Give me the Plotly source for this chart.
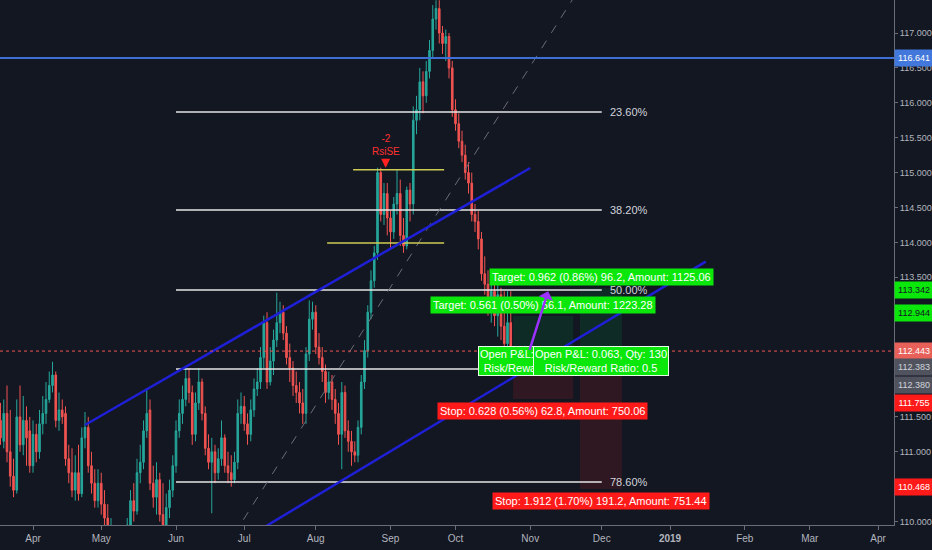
import plotly.graph_objects as go
import pandas as pd

# ---------------- data ----------------
dates = pd.bdate_range("2018-03-19", "2018-10-24")

opens = [
    111.45, 111.15, 111.55, 111.00, 110.65, 110.45, 111.50, 111.10, 111.45, 111.30,
    110.80, 111.25, 111.00, 111.40, 111.55, 111.75, 111.95, 112.10, 111.45, 111.60,
    111.55, 110.90, 110.70, 110.45, 110.70, 110.40, 111.20, 111.35, 110.80, 110.55,
    110.30, 110.55, 110.25, 110.05, 109.85, 109.90, 109.70, 109.50, 109.70, 109.80,
    109.95, 110.30, 110.15, 110.70, 110.85, 111.30, 111.60, 110.55, 110.35, 110.60,
    110.10, 109.95, 110.20, 110.45, 110.80, 111.30, 111.55, 111.75, 112.05, 111.85,
    111.25, 111.70, 112.00, 111.55, 111.05, 110.85, 111.00, 110.70, 110.90, 111.20,
    110.80, 110.70, 110.60, 110.85, 111.55, 111.65, 111.40, 111.25, 111.60, 111.90,
    112.00, 112.35, 112.85, 112.00, 112.30, 112.60, 112.85, 113.00, 112.70, 112.35,
    112.20, 111.95, 111.85, 111.70, 111.55, 112.40, 112.90, 113.00, 112.50, 112.35,
    112.15, 111.85, 112.00, 111.75, 111.55, 111.25, 111.85, 111.30, 111.15, 111.00,
    110.95, 111.35, 112.00, 112.45, 113.00, 113.45, 113.85, 115.00, 114.40, 114.70,
    114.35, 114.15, 114.55, 114.70, 114.10, 113.95, 114.75, 114.55, 115.75, 115.90,
    116.30, 116.10, 116.45, 116.75, 117.20, 117.35, 117.00, 116.85, 116.95, 116.50,
    115.90, 115.70, 115.45, 115.25, 115.00, 114.85, 114.40, 114.30, 114.05, 113.55,
    113.40, 113.10, 113.30, 112.95, 113.25, 112.80, 112.55, 112.85,
]
highs = [
    111.70, 111.75, 111.95, 111.60, 110.90, 111.75, 111.95, 111.80, 111.65, 111.50,
    111.45, 111.40, 111.60, 111.80, 112.00, 112.15, 112.29, 112.15, 111.85, 111.75,
    111.65, 111.10, 111.05, 110.95, 111.10, 111.35, 111.57, 111.50, 111.00, 110.75,
    110.75, 110.70, 110.45, 110.25, 110.05, 109.95, 109.80, 109.85, 109.90, 110.05,
    110.45, 110.55, 110.90, 111.10, 111.45, 111.91, 111.75, 110.80, 110.85, 110.70,
    110.55, 110.40, 110.60, 110.95, 111.45, 111.75, 111.95, 112.20, 112.20, 111.95,
    111.85, 112.20, 112.05, 111.65, 111.25, 111.20, 111.10, 111.05, 111.45, 111.25,
    111.00, 110.95, 111.00, 111.75, 111.85, 111.80, 111.55, 111.75, 112.05, 112.20,
    112.50, 112.95, 113.00, 112.50, 112.75, 113.28, 113.15, 113.10, 112.80, 112.55,
    112.30, 112.15, 112.00, 111.90, 112.50, 113.17, 113.15, 113.10, 112.70, 112.50,
    112.25, 112.15, 112.10, 111.90, 111.70, 112.00, 111.95, 111.45, 111.30, 111.15,
    111.45, 112.10, 112.60, 113.10, 113.60, 113.95, 115.07, 115.07, 114.85, 114.85,
    114.45, 114.65, 115.05, 114.90, 114.35, 114.80, 114.85, 115.95, 116.10, 116.50,
    116.45, 116.60, 116.90, 117.40, 117.47, 117.47, 117.10, 117.05, 117.00, 116.60,
    116.05, 115.85, 115.60, 115.40, 115.15, 115.00, 114.55, 114.45, 114.15, 113.80,
    113.60, 113.55, 113.40, 113.45, 113.35, 113.30, 113.30, 113.30,
]
lows = [
    111.10, 111.05, 110.85, 110.50, 110.35, 110.40, 111.00, 110.95, 110.80, 110.70,
    110.70, 110.85, 110.90, 111.25, 111.40, 111.70, 111.85, 111.35, 111.30, 111.40,
    110.80, 110.55, 110.35, 110.30, 110.30, 110.35, 111.05, 110.70, 110.40, 110.20,
    110.20, 110.10, 109.95, 109.75, 109.70, 109.55, 109.40, 109.35, 109.60, 109.70,
    109.90, 110.00, 110.10, 110.55, 110.75, 111.20, 110.45, 110.20, 110.10, 110.00,
    109.85, 109.85, 110.05, 110.35, 110.70, 111.20, 111.40, 111.65, 111.70, 111.10,
    111.15, 111.60, 111.45, 110.95, 110.75, 110.12, 110.55, 110.60, 110.80, 110.70,
    110.55, 110.50, 110.55, 110.75, 111.40, 111.30, 111.10, 111.15, 111.50, 111.80,
    111.90, 112.20, 111.90, 111.95, 112.10, 112.50, 112.70, 112.60, 112.25, 112.00,
    111.80, 111.70, 111.55, 111.40, 111.40, 112.30, 112.75, 112.40, 112.25, 112.00,
    111.70, 111.75, 111.60, 111.40, 111.10, 110.75, 111.20, 111.00, 110.80, 110.85,
    110.85, 111.25, 111.90, 112.35, 112.90, 113.35, 113.75, 114.30, 114.25, 114.10,
    113.90, 114.05, 114.40, 113.95, 113.85, 113.90, 114.30, 114.40, 115.55, 115.75,
    115.85, 116.00, 116.35, 116.65, 117.05, 116.85, 116.70, 116.60, 116.35, 115.80,
    115.60, 115.35, 115.15, 114.90, 114.70, 114.30, 114.15, 113.90, 113.45, 113.25,
    112.95, 112.85, 112.80, 112.65, 112.60, 112.45, 112.50, 112.40,
]
closes = [
    111.20, 111.55, 111.00, 110.65, 110.45, 111.50, 111.10, 111.45, 111.20, 110.80,
    111.25, 111.00, 111.40, 111.55, 111.75, 111.95, 112.10, 111.45, 111.60, 111.50,
    110.90, 110.70, 110.45, 110.70, 110.40, 111.20, 111.35, 110.80, 110.55, 110.30,
    110.55, 110.25, 110.05, 109.85, 109.90, 109.70, 109.50, 109.70, 109.80, 109.95,
    110.30, 110.15, 110.70, 110.85, 111.30, 111.55, 110.55, 110.35, 110.60, 110.10,
    109.95, 110.20, 110.45, 110.80, 111.30, 111.55, 111.75, 112.05, 111.85, 111.25,
    111.70, 112.00, 111.55, 111.05, 110.85, 111.00, 110.70, 110.90, 111.20, 110.80,
    110.70, 110.60, 110.85, 111.55, 111.65, 111.40, 111.25, 111.60, 111.90, 112.00,
    112.35, 112.85, 112.00, 112.30, 112.60, 112.85, 113.00, 112.70, 112.35, 112.20,
    111.95, 111.85, 111.70, 111.55, 112.40, 112.90, 113.00, 112.50, 112.35, 112.15,
    111.85, 112.00, 111.75, 111.55, 111.25, 111.85, 111.30, 111.15, 111.00, 110.95,
    111.35, 112.00, 112.45, 113.00, 113.45, 113.85, 115.00, 114.40, 114.70, 114.35,
    114.15, 114.55, 114.70, 114.10, 113.95, 114.75, 114.55, 115.75, 115.90, 116.30,
    116.10, 116.45, 116.75, 117.20, 117.35, 117.00, 116.85, 116.95, 116.50, 115.90,
    115.70, 115.45, 115.25, 115.00, 114.85, 114.40, 114.30, 114.05, 113.55, 113.40,
    113.10, 113.30, 112.95, 113.25, 112.80, 112.55, 112.85, 112.443,
]

month_ticks = ["2018-04-02", "2018-05-01", "2018-06-01", "2018-07-02", "2018-08-01",
               "2018-09-03", "2018-10-01", "2018-11-01", "2018-12-03", "2019-01-01",
               "2019-02-01", "2019-03-01", "2019-04-01"]
month_labels = ["Apr", "May", "Jun", "Jul", "Aug", "Sep", "Oct", "Nov", "Dec",
                "<b>2019</b>", "Feb", "Mar", "Apr"]
price_ticks = [110.0, 110.5, 111.0, 111.5, 113.5, 114.0, 114.5, 115.0, 115.5,
               116.0, 116.5, 117.0]

x_range = ["2018-03-16 20:18", "2019-04-05 22:05"]
y_range = [109.951, 117.473]

hline_level = 116.641
last_price = 112.443

fib_x = ["2018-06-01", "2018-12-03"]
fib_levels = [115.868, 114.464, 113.318, 112.186, 110.567]
fib_labels = ["23.60%", "38.20%", "50.00%", "", "78.60%"]
fib_trend_y = [108.50, 118.143]

upper_ch_x = ["2018-04-24", "2018-11-01"]
upper_ch_y = [111.384, 115.066]
lower_ch_x = ["2018-07-02", "2019-01-16"]
lower_ch_y = [109.747, 113.724]

yellow_levels = [115.04, 113.99]
yellow_x0 = ["2018-08-16 12:00", "2018-08-06 12:00"]
yellow_x1 = ["2018-09-25 12:00", "2018-09-25 12:00"]

# position tools: entry, target, stop
pos_entry = [112.383, 112.380]
pos_target = [112.944, 113.342]
pos_stop = [111.755, 110.468]
pos_x0 = ["2018-10-24 17:00", "2018-11-22 07:00"]
pos_x1 = ["2018-11-20 05:00", "2018-12-11 05:00"]
pos_mid = ["2018-11-06 22:00", "2018-11-30 19:00"]
pos_target_text = ["Target: 0.561 (0.50%) 56.1, Amount: 1223.28",
                   "Target: 0.962 (0.86%) 96.2, Amount: 1125.06"]
pos_stop_text = ["Stop: 0.628 (0.56%) 62.8, Amount: 750.06",
                 "Stop: 1.912 (1.70%) 191.2, Amount: 751.44"]
pos_pl_text = ["Open P&L: 0.06, Qty: 195<br>Risk/Reward Ratio: 0.89",
               "Open P&L: 0.063, Qty: 130<br>Risk/Reward Ratio: 0.5"]

axis_labels = [116.641, 113.342, 112.944, 112.443, 112.383, 112.380, 111.755, 110.468]
axis_label_bg = ["#4277db", "#0be60b", "#0be60b", "#e8605a", "#50535e", "#50535e", "#ff1a1a", "#ff1a1a"]
axis_label_fg = ["#ffffff", "#131722", "#131722", "#ffffff", "#d1d4dc", "#d1d4dc", "#ffffff", "#ffffff"]
axis_label_shift = [0, -2, 3, 0, -12, -30, -4, 2]

signal_x = "2018-08-30 12:00"
signal_y = 115.07
arrow_head = ("2018-11-08 12:00", 113.30)

# ---------------- figure ----------------
BG = "#131722"
FONT = "Liberation Sans Narrow, Liberation Sans, Arial"
fig = go.Figure()

fig.add_trace(go.Candlestick(
    x=dates, open=opens, high=highs, low=lows, close=closes,
    increasing=dict(line=dict(color="#26a69a", width=1), fillcolor="#26a69a"),
    decreasing=dict(line=dict(color="#ef5350", width=1), fillcolor="#ef5350"),
    whiskerwidth=0, hoverinfo="skip", showlegend=False,
))

shapes = []
for i in range(2):
    shapes.append(dict(type="rect", xref="x", yref="y", x0=pos_x0[i], x1=pos_x1[i],
                       y0=pos_entry[i], y1=pos_target[i], line=dict(width=0),
                       fillcolor="rgba(0,150,60,0.16)", layer="below"))
    shapes.append(dict(type="rect", xref="x", yref="y", x0=pos_x0[i], x1=pos_x1[i],
                       y0=pos_stop[i], y1=pos_entry[i], line=dict(width=0),
                       fillcolor="rgba(200,30,30,0.16)", layer="below"))
for lv in fib_levels:
    shapes.append(dict(type="line", xref="x", yref="y", x0=fib_x[0], x1=fib_x[1],
                       y0=lv, y1=lv, line=dict(color="#e6e6e6", width=1.5)))
shapes.append(dict(type="line", xref="x", yref="y", x0=fib_x[0], x1=fib_x[1],
                   y0=fib_trend_y[0], y1=fib_trend_y[1],
                   line=dict(color="#6a6d78", width=1, dash="dash")))
for lv, a, b in zip(yellow_levels, yellow_x0, yellow_x1):
    shapes.append(dict(type="line", xref="x", yref="y", x0=a, x1=b, y0=lv, y1=lv,
                       line=dict(color="#cfcc55", width=1.5)))
shapes.append(dict(type="line", xref="x", yref="y", x0=upper_ch_x[0], x1=upper_ch_x[1],
                   y0=upper_ch_y[0], y1=upper_ch_y[1], line=dict(color="#1f1fd6", width=2.5)))
shapes.append(dict(type="line", xref="x", yref="y", x0=lower_ch_x[0], x1=lower_ch_x[1],
                   y0=lower_ch_y[0], y1=lower_ch_y[1], line=dict(color="#1f1fd6", width=2.5)))
shapes.append(dict(type="line", xref="paper", yref="y", x0=0, x1=1, y0=hline_level, y1=hline_level,
                   line=dict(color="#3d6fd6", width=2)))
shapes.append(dict(type="line", xref="paper", yref="y", x0=0, x1=1, y0=last_price, y1=last_price,
                   line=dict(color="#ef5350", width=1, dash="dot")))

ann = []
for lv, t in zip(fib_levels, fib_labels):
    if t:
        ann.append(dict(x=fib_x[1], y=lv, xref="x", yref="y", text=t, showarrow=False,
                        xanchor="left", xshift=6, font=dict(color="#d1d4dc", size=11, family=FONT)))
ann.append(dict(x=signal_x, y=signal_y, xref="x", yref="y", text="", showarrow=True,
                ax=0, ay=-10, arrowcolor="#ff2020", arrowwidth=3, arrowhead=2, arrowsize=0.6))
ann.append(dict(x=signal_x, y=signal_y, xref="x", yref="y", text="-2<br>RsiSE", showarrow=False,
                yanchor="bottom", yshift=9, font=dict(color="#ff3030", size=10, family=FONT)))
for i in range(2):
    ann.append(dict(x=pos_mid[i], y=pos_target[i], xref="x", yref="y", text=pos_target_text[i],
                    showarrow=False, yanchor="bottom", yshift=2, bgcolor="#0be60b", borderpad=2,
                    font=dict(color="#ffffff", size=11, family=FONT)))
    ann.append(dict(x=pos_mid[i], y=pos_stop[i], xref="x", yref="y", text=pos_stop_text[i],
                    showarrow=False, yanchor="top", yshift=-3, bgcolor="#ff1a1a", borderpad=2,
                    font=dict(color="#ffffff", size=11, family=FONT)))
for i in range(2):
    ann.append(dict(x=pos_mid[i], y=pos_entry[i], xref="x", yref="y", text=pos_pl_text[i],
                    showarrow=False, yshift=-6, bgcolor="#0be60b", bordercolor="#e8ffe8",
                    borderwidth=1, borderpad=1, font=dict(color="#ffffff", size=11, family=FONT)))
ann.append(dict(x=arrow_head[0], y=arrow_head[1], xref="x", yref="y", text="", showarrow=True,
                ax=-19, ay=60, arrowcolor="#9b30ff", arrowwidth=2.5, arrowhead=1, arrowsize=1))
for v, bg, fg, sh in zip(axis_labels, axis_label_bg, axis_label_fg, axis_label_shift):
    ann.append(dict(x=1, y=v, xref="paper", yref="y", text=f"{v:.3f}", showarrow=False,
                    xanchor="left", yshift=sh, bgcolor=bg, width=36, height=14, borderpad=1,
                    font=dict(color=fg, size=9, family=FONT)))

fig.update_layout(
    width=932, height=550, paper_bgcolor=BG, plot_bgcolor=BG,
    margin=dict(l=0, r=38, t=0, b=25),
    shapes=shapes, annotations=ann, showlegend=False,
    font=dict(family=FONT, color="#b2b5be", size=11),
    xaxis=dict(type="date", range=x_range, rangebreaks=[dict(bounds=["sat", "mon"])],
               rangeslider=dict(visible=False), showgrid=False, zeroline=False,
               tickvals=month_ticks, ticktext=month_labels, ticks="outside", ticklen=4,
               tickcolor="#6a6d78", showline=True, linecolor="#6a6d78", linewidth=1,
               tickfont=dict(size=10, color="#b2b5be", family=FONT)),
    yaxis=dict(side="right", range=y_range, showgrid=False, zeroline=False,
               tickvals=price_ticks, tickformat=".3f", ticks="outside", ticklen=3,
               tickcolor="#6a6d78", showline=True, linecolor="#6a6d78", linewidth=1,
               tickfont=dict(size=9, color="#b2b5be", family=FONT)),
)

fig.write_html(
    "out.html",
    config={"displayModeBar": False},
    post_script="document.body.style.margin='0';document.body.style.padding='0';"
                "document.body.style.overflow='hidden';"
                "document.documentElement.style.overflow='hidden';",
)
